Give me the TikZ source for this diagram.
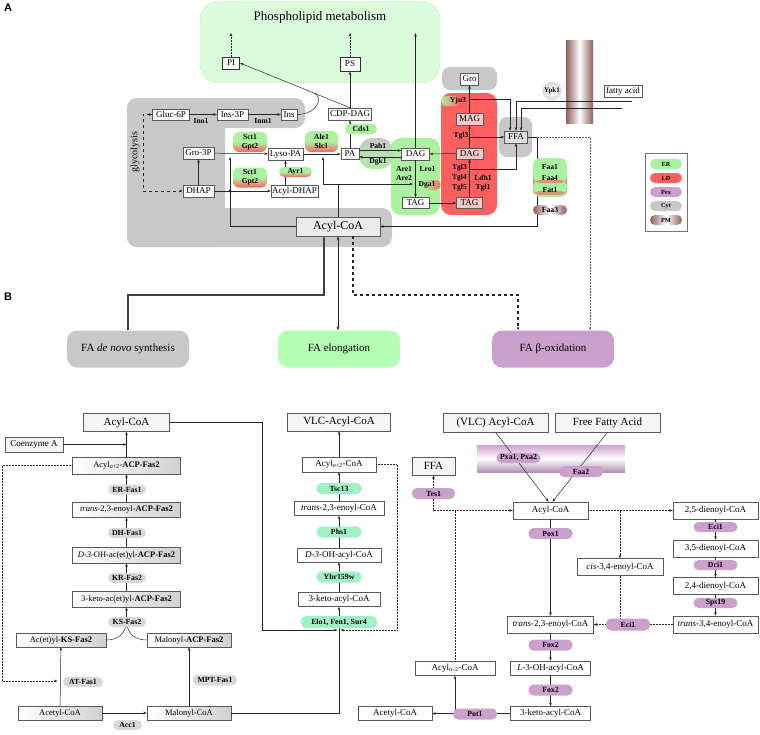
\documentclass[tikz,border=0pt]{standalone}
\usepackage{fontspec}
\setmainfont{Liberation Serif}
\newfontfamily\panelfont{Liberation Sans}
\usetikzlibrary{arrows.meta,calc}
\definecolor{erg}{RGB}{170,242,160}
\definecolor{ldr}{RGB}{255,95,95}
\definecolor{pexp}{RGB}{204,160,204}
\definecolor{cytg}{RGB}{200,200,200}
\definecolor{pmb}{RGB}{140,95,90}
\definecolor{elg}{RGB}{160,240,200}
\definecolor{elbox}{RGB}{180,255,180}
\definecolor{plg}{RGB}{218,252,218}
\definecolor{ldbox}{RGB}{248,200,200}
\definecolor{fabst}{RGB}{215,150,120}
\tikzset{
 bx/.style={draw=black!65, fill=white, line width=0.5pt, inner sep=1pt, font=\fontsize{9}{10}\selectfont},
 hd/.style={bx, font=\fontsize{11}{12}\selectfont},
 acp/.style={bx, left color=white, right color=black!18, font=\fontsize{8.5}{10}\selectfont},
 ldb/.style={bx, fill=ldbox},
 bd/.style={rounded corners=5pt, inner sep=0.5pt, font=\bfseries\fontsize{7.8}{8}\selectfont, minimum height=10},
 gbd/.style={bd, fill=black!15},
 ebd/.style={bd, fill=elg},
 pbd/.style={bd, fill=pexp},
 erld/.style={bd, top color=erg, bottom color=ldr, middle color=erg, align=center, font=\bfseries\fontsize{7.6}{9}\selectfont},
 lb/.style={inner sep=0pt, font=\bfseries\fontsize{7.6}{8}\selectfont},
 lgd/.style={bd, minimum width=32, font=\bfseries\fontsize{6.3}{7}\selectfont},
 arr/.style={-{Stealth[length=3.5pt,width=2.6pt]}, line width=0.5pt, draw=black!85},
 lnk/.style={line width=0.5pt, draw=black!85},
 pnl/.style={font=\panelfont\bfseries\fontsize{11}{12}\selectfont},
 big/.style={rounded corners=10pt, minimum width=122, minimum height=37, font=\fontsize{11}{12}\selectfont},
}
\begin{document}
\begin{tikzpicture}[x=1pt,y=-1pt]
\useasboundingbox (0,0) rectangle (760,734);
\node[pnl] (la) at (8,8) {A};
\node[pnl] (lB) at (8,297) {B};

% ---------- regions panel A
\draw[fill=plg, draw=black!25, densely dotted, rounded corners=18pt] (200,1) rectangle (440,83);
\node[font=\fontsize{13}{14}\selectfont] (plm) at (320,17) {Phospholipid metabolism};
\fill[cytg, rounded corners=10pt] (127,98) rectangle (305,128);
\fill[cytg, rounded corners=10pt] (127,98) rectangle (225,247);
\fill[cytg, rounded corners=10pt] (127,208) rectangle (392,247);
\fill[cytg, rounded corners=8pt] (442,67) rectangle (497,90);
\fill[cytg, rounded corners=8pt] (499,117) rectangle (532,157);
\fill[erg, rounded corners=10pt] (391,138) rectangle (440,215);
\fill[ldr, rounded corners=10pt] (441,93) rectangle (497,215);
\shade[top color=cytg, bottom color=erg, rounded corners=13pt] (359,138) rectangle (393,169);
\shade[left color=pmb, right color=pmb, middle color=white] (566,40) rectangle (593,123);

\coordinate (piup) at (231,33);
\coordinate (psup) at (350,33);
\coordinate (dagup) at (415.5,33);

% ---------- nodes panel A
\node[bx, minimum width=37, minimum height=11] (gluc) at (171,114.5) {Gluc-6P};
\node[bx, minimum width=31, minimum height=11] (ins3p) at (232.5,114.5) {Ins-3P};
\node[bx, minimum width=16, minimum height=11] (ins) at (289,114.5) {Ins};
\node[bx, minimum width=31, minimum height=12] (gro3p) at (198.5,153) {Gro-3P};
\node[bx, minimum width=31, minimum height=12] (dhap) at (198.5,191) {DHAP};
\node[bx, minimum width=35, minimum height=12] (lysopa) at (285.5,154) {Lyso-PA};
\node[bx, minimum width=47, minimum height=12] (acyldhap) at (294.5,191) {Acyl-DHAP};
\node[bx, minimum width=18, minimum height=11] (pa) at (350,154) {PA};
\node[bx, minimum width=43, minimum height=12] (cdpdag) at (350,114) {CDP-DAG};
\node[bx, line width=1pt, draw=black!80, minimum width=17, minimum height=12] (pi) at (231,63) {PI};
\node[bx, line width=1pt, draw=black!80, minimum width=20, minimum height=14] (ps) at (350,64) {PS};
\node[bx, minimum width=28, minimum height=12] (dag) at (415.5,154) {DAG};
\node[bx, minimum width=27, minimum height=11] (tag) at (415.5,203) {TAG};
\node[ldb, minimum width=27, minimum height=12] (mag) at (469.5,119) {MAG};
\node[ldb, minimum width=27, minimum height=11] (dagld) at (469.5,153.5) {DAG};
\node[ldb, minimum width=26, minimum height=11] (tagld) at (469.5,203) {TAG};
\node[bx, minimum width=18, minimum height=12] (gro) at (469.5,79) {Gro};
\node[bx, fill=black!12, minimum width=23, minimum height=12] (ffa) at (516,137) {FFA};
\node[bx, fill=black!8, minimum width=84, minimum height=19, font=\fontsize{12}{13}\selectfont] (acoa) at (338,226.5) {Acyl-CoA};
\node[bx, minimum width=38, minimum height=12] (fa) at (623,91) {fatty acid};
\node[font=\fontsize{10}{11}\selectfont, rotate=90] (glyc) at (135,152) {glycolysis};

% ---------- connectors panel A
\draw[lnk, dashed, {Stealth[length=3.5pt,width=2.6pt]}-{Stealth[length=3.5pt,width=2.6pt]}] (gluc.west) -- (143,114.5) -- (143,191) -- (dhap.west);
\draw[arr] (gluc) -- (ins3p);
\draw[arr] (ins3p) -- (ins);
\draw[arr] (dhap) -- (gro3p);
\draw[arr] (gro3p) -- (lysopa);
\draw[arr] (dhap) -- (acyldhap);
\draw[arr] (acyldhap.north -| lysopa.south) -- (lysopa.south);
\draw[arr] (lysopa) -- (pa);
\draw[arr] (pa) -- (cdpdag);
\draw[arr] (cdpdag) -- (ps);
\draw[arr] (cdpdag.north) -- (pi.east);
\draw[lnk] (ins.east) .. controls (318,114) and (324,97) .. ($(cdpdag.north)!0.33!(pi.east)$);
\draw[arr, densely dotted] (pi) -- (piup);
\draw[arr, densely dotted] (ps) -- (psup);
\draw[arr] (dag) -- (dagup);
\draw[arr] ([yshift=3.5pt]pa.east) -- ([yshift=3.5pt]dag.west);
\draw[arr] ([yshift=-3pt]dag.west) -- ([yshift=-3pt]pa.east);
\draw[arr] (dag) -- (tag);
\draw[arr] (tag) -- (tagld);
\draw[arr] (tagld) -- (dagld);
\draw[arr] (dagld) -- (mag);
\draw[arr] (mag) -- (gro);
\draw[arr] (dagld) -- (dag);
\coordinate (b1) at (469.5,137);
\draw[arr] (b1) -- (ffa);
\coordinate (b2) at (469.5,169);
\draw[arr] (b2) -| (ffa.south);
\coordinate (b3) at (469.5,99);
\draw[arr] (b3) -| ([xshift=-6pt]ffa.north);
\coordinate (pm1) at (632,101);
\draw[arr] (pm1) -| (ffa.north);
\coordinate (pm2) at (622,108);
\draw[arr] (pm2) -| ([xshift=5pt]ffa.north);
\draw[arr] (ffa.east) -- ++(9,0) |- (acoa.east);
\draw[arr] (acoa.west) -| (230,157);
\fill[black!85] (230,191) circle (1.6);
\coordinate (ab) at (338,184);
\draw[lnk] (acoa.north) -- (ab);
\draw[arr] (ab) -| (323,157);
\draw[arr] (ab) -- (413,184);

% ---------- badges / labels panel A
\node[erld, minimum width=34, minimum height=20, rounded corners=6pt] (sg1) at (250,142) {Sct1\\Gpt2};
\node[erld, minimum width=34, minimum height=20, rounded corners=6pt] (sg2) at (250,177.5) {Sct1\\Gpt2};
\node[erld, minimum width=33, minimum height=10] (ayr) at (295.5,172) {Ayr1};
\node[erld, minimum width=33, minimum height=21, rounded corners=6pt] (ale) at (321.5,141.5) {Ale1\\Slc1};
\node[bd, fill=erg, minimum width=32] (cds) at (361,129) {Cds1};
\node[bd, left color=erg, right color=ldr, minimum width=17, rounded corners=5pt] (dgab) at (432,185) {};
\node[bd, left color=erg, right color=ldr, minimum width=20] (yjub) at (451,101) {};
\node[lb] (ino) at (201,121) {Ino1};
\node[lb] (inm) at (263,121) {Inm1};
\node[lb] (pah) at (378,146) {Pah1};
\node[lb] (dgk) at (378,162) {Dgk1};
\node[lb] (are1) at (404,169) {Are1};
\node[lb] (are2) at (404,178) {Are2};
\node[lb] (lro) at (427.5,169) {Lro1};
\node[lb] (dga) at (427,185) {Dga1};
\node[lb] (yju) at (458,101) {Yju3};
\node[lb] (tgl3a) at (461,136) {Tgl3};
\node[lb] (tgl3) at (459.5,168) {Tgl3};
\node[lb] (tgl4) at (459.5,178) {Tgl4};
\node[lb] (tgl5) at (459.5,188) {Tgl5};
\node[lb] (ldh) at (483,178) {Ldh1};
\node[lb] (tgl1) at (483,188) {Tgl1};
\node[circle, inner color=white, outer color=black!15, draw=black!8, minimum size=19, inner sep=0pt, font=\bfseries\fontsize{7}{8}\selectfont] (ypk) at (552,91) {Ypk1};
\node[bd, fill=erg, minimum width=34, minimum height=39, rounded corners=7pt,
  path picture={\fill[fabst] ([yshift=2pt]path picture bounding box.south west) rectangle ([yshift=6pt]path picture bounding box.south east);
  \fill[fabst] ([yshift=14pt]path picture bounding box.south west) rectangle ([yshift=17pt]path picture bounding box.south east);}] (faab) at (550,177.5) {};
\node[lb] (faa1) at (550,167) {Faa1};
\node[lb] (faa4) at (550,178) {Faa4};
\node[lb] (fat1) at (550,190) {Fat1};
\node[bd, left color=pmb, right color=pmb, middle color=white, minimum width=34] (faa3) at (550,210) {Faa3};

% legend
\node[draw=black!55, fill=white, minimum width=42, minimum height=78, inner sep=0pt] (leg) at (666,192) {};
\node[lgd, fill=erg] (lger) at (666,164) {ER};
\node[lgd, fill=ldr] (lgld) at (666,178) {LD};
\node[lgd, fill=pexp] (lgpx) at (666,192) {Pex};
\node[lgd, fill=cytg] (lgcy) at (666,206) {Cyt};
\node[lgd, left color=pmb, right color=pmb, middle color=white] (lgpm) at (666,220) {PM};

% ---------- category boxes
\node[big, fill=cytg] (bdn) at (128,349) {FA \textit{de novo} synthesis};
\node[big, fill=elbox] (bel) at (339,349) {FA elongation};
\node[big, fill=pexp] (bo) at (553,349) {FA β-oxidation};
\coordinate (j1) at (324,295);
\coordinate (j3) at (353,295);
\coordinate (j4) at (518,295);
\draw[arr, line width=1.6pt, draw=black!75] (bdn.north) |- (j1) -- (acoa.south -| j1);
\draw[lnk, line width=0.9pt, {Stealth[length=4pt,width=3pt]}-{Stealth[length=4pt,width=3pt]}] (acoa.south) -- (acoa.south |- bel.north);
\draw[arr, line width=1.3pt, dashed] (acoa.south -| j3) -- (j3) -- (j4) -- (bo.north -| j4);
\draw[arr, densely dotted, draw=black!60] (ffa.east) ++(9,0) -| ([xshift=37pt]bo.north);

% ---------- de novo column
\node[hd, fill=black!4, minimum width=86, minimum height=18] (dacoa) at (126.5,422.5) {Acyl-CoA};
\node[bx, fill=black!4, minimum width=58, minimum height=15] (coa) at (34,444.5) {Coenzyme A};
\node[acp, minimum width=108, minimum height=17] (acyln2) at (126.5,465.5) {Acyl\textsubscript{\textit{n}+2}-\textbf{ACP-Fas2}};
\node[acp, minimum width=108, minimum height=15] (trans) at (126.5,509.5) {\textit{trans}-2,3-enoyl-\textbf{ACP-Fas2}};
\node[acp, minimum width=108, minimum height=16] (d3oh) at (126.5,555) {\textit{D-3}-OH-ac(et)yl-\textbf{ACP-Fas2}};
\node[acp, minimum width=108, minimum height=16] (keto) at (126.5,599) {3-keto-ac(et)yl-\textbf{ACP-Fas2}};
\node[acp, minimum width=90, minimum height=14] (acks) at (61,640) {Ac(et)yl-\textbf{KS-Fas2}};
\node[acp, minimum width=84, minimum height=14] (malacp) at (189,640) {Malonyl-\textbf{ACP-Fas2}};
\node[acp, minimum width=84, minimum height=14] (acetyl) at (60,713) {Acetyl-CoA};
\node[acp, minimum width=84, minimum height=14] (malcoa) at (189,713) {Malonyl-CoA};
\coordinate (ksj) at (126.5,621);
\draw[arr] (acetyl) -- (malcoa);
\draw[arr] (acetyl) -- (acks);
\draw[arr] (malcoa) -- (malacp);
\draw[lnk] (acks.east) .. controls (119,640) and (126,633) .. (ksj);
\draw[lnk] (malacp.west) .. controls (134,640) and (127,633) .. (ksj);
\draw[arr] (ksj) -- (keto);
\draw[arr] (keto) -- (d3oh);
\draw[arr] (d3oh) -- (trans);
\draw[arr] (trans) -- (acyln2);
\draw[arr] (acyln2) -- (dacoa);
\draw[arr] (coa.east) -- (coa.east -| dacoa.south);
\draw[arr, densely dotted] (acyln2.west) -| (2,681) -- (57.5,681);
\node[gbd, minimum width=38] (erf) at (127,489.5) {ER-Fas1};
\node[gbd, minimum width=38] (dhf) at (127,533) {DH-Fas1};
\node[gbd, minimum width=38] (krf) at (127,578) {KR-Fas2};
\node[gbd, minimum width=38] (ksf) at (127,622) {KS-Fas2};
\node[gbd, minimum width=40] (atf) at (83,682) {AT-Fas1};
\node[gbd, minimum width=44, minimum height=11] (mptf) at (215,680) {MPT-Fas1};
\node[gbd, minimum width=29] (acc) at (127.5,725) {Acc1};

% ---------- elongation column
\node[hd, fill=black!4, minimum width=103, minimum height=18] (vlc) at (339,422) {VLC-Acyl-CoA};
\node[bx, minimum width=74, minimum height=15] (eacyl) at (339,464.5) {Acyl\textsubscript{\textit{n}+2}-CoA};
\node[bx, minimum width=90, minimum height=14] (etrans) at (339,508.5) {\textit{trans}-2,3-enoyl-CoA};
\node[bx, minimum width=84, minimum height=14] (ed3oh) at (339,555) {\textit{D-3}-OH-acyl-CoA};
\node[bx, minimum width=82, minimum height=14] (eketo) at (339,599.5) {3-keto-acyl-CoA};
\coordinate (elj) at (339,630);
\draw[arr] (eacyl) -- (vlc);
\draw[arr] (etrans) -- (eacyl);
\draw[arr] (ed3oh) -- (etrans);
\draw[arr] (eketo) -- (ed3oh);
\draw[arr] (elj) -- (eketo);
\draw[arr] (dacoa.east) -| (262,630) -- ([xshift=-1.5pt]elj);
\draw[lnk] (malcoa.east) -| (elj);
\draw[arr, densely dotted] (eacyl.east) -| (397,630) -- ([xshift=1.5pt]elj);
\node[ebd, minimum width=45, minimum height=11] (tsc) at (339,488.5) {Tsc13};
\node[ebd, minimum width=45, minimum height=11] (phs) at (339,532) {Phs1};
\node[ebd, minimum width=45, minimum height=11] (ybr) at (339,577) {Ybr159w};
\node[ebd, minimum width=76, minimum height=12] (elo) at (339,622) {Elo1, Fen1, Sur4};

% ---------- beta-oxidation
\node[hd, fill=black!4, minimum width=105, minimum height=19] (vlcacoa) at (495.5,422.5) {(VLC) Acyl-CoA};
\node[hd, fill=black!4, minimum width=105, minimum height=19] (ffacid) at (607.5,422.5) {Free Fatty Acid};
\shade[top color=pexp, bottom color=pexp!90!black, middle color=white] (477,445) rectangle (625,472);
\node[bx, minimum width=75, minimum height=17] (bacoa) at (550.5,510.5) {Acyl-CoA};
\node[hd, fill=black!4, minimum width=43, minimum height=18] (bffa) at (433.5,466) {FFA};
\node[bx, minimum width=86, minimum height=17] (btrans) at (550.5,624.5) {\textit{trans}-2,3-enoyl-CoA};
\node[bx, minimum width=80, minimum height=14] (bl3oh) at (550.5,668) {\textit{L}-3-OH-acyl-CoA};
\node[bx, minimum width=80, minimum height=14] (bketo) at (550.5,713.5) {3-keto-acyl-CoA};
\node[bx, minimum width=74, minimum height=14] (bacetyl) at (395,713.5) {Acetyl-CoA};
\node[bx, minimum width=80, minimum height=14] (acylm2) at (455,668.5) {Acyl\textsubscript{\textit{n}--2}-CoA};
\node[bx, minimum width=85, minimum height=17] (d25) at (715.5,510.5) {2,5-dienoyl-CoA};
\node[bx, minimum width=85, minimum height=17] (d35) at (715.5,548.5) {3,5-dienoyl-CoA};
\node[bx, minimum width=85, minimum height=17] (d24) at (715.5,586) {2,4-dienoyl-CoA};
\node[bx, minimum width=85, minimum height=17] (t34) at (715.5,624.5) {\textit{trans}-3,4-enoyl-CoA};
\node[bx, minimum width=86, minimum height=17] (cis34) at (620,567) {\textit{cis}-3,4-enoyl-CoA};

\draw[arr] (vlcacoa.south) -- ([xshift=-2pt]bacoa.north);
\draw[arr] (ffacid.south) -- ([xshift=2pt]bacoa.north);
\draw[arr] (bacoa) -- (btrans);
\draw[arr] (btrans) -- (bl3oh);
\draw[arr] (bl3oh) -- (bketo);
\draw[arr] (bketo) -- (bacetyl);
\draw[arr] (bketo.west -| acylm2) -- (acylm2.south);
\coordinate (tj) at (455,510.5);
\draw[lnk, densely dotted] (acylm2.north) -- (tj);
\draw[arr, densely dotted] (tj) -- (bacoa.west);
\draw[arr, densely dotted] (tj) -| (bffa.south);
\coordinate (rj) at (620,510.5);
\draw[arr, densely dotted] (bacoa.east) -- (d25.west);
\draw[arr, densely dotted] (rj) -- (cis34.north);
\draw[arr] (d25) -- (d35);
\draw[arr] (d35) -- (d24);
\draw[arr] (d24) -- (t34);
\draw[arr, densely dotted] (t34.west) -- (btrans.east);
\draw[lnk, densely dotted] (cis34.south) -- (cis34.south |- t34.west);

\node[pbd, minimum width=44] (pxa) at (518.5,458) {Pxa1, Pxa2};
\node[pbd, minimum width=44, minimum height=11] (faa2) at (581,471.5) {Faa2};
\node[pbd, minimum width=43, minimum height=11] (tes) at (433.5,493.5) {Tes1};
\node[pbd, minimum width=44, minimum height=11] (pox) at (550.5,533.5) {Pox1};
\node[pbd, minimum width=44, minimum height=11] (fox2a) at (550.5,645) {Fox2};
\node[pbd, minimum width=44, minimum height=11] (fox2b) at (550.5,690) {Fox2};
\node[pbd, minimum width=44, minimum height=11] (pot) at (475,714) {Pot1};
\node[pbd, minimum width=44] (eci1a) at (715.5,527) {Eci1};
\node[pbd, minimum width=44] (dci) at (715.5,565) {Dci1};
\node[pbd, minimum width=44] (sps) at (715.5,603) {Sps19};
\node[pbd, minimum width=44, minimum height=12] (eci1b) at (628,624.5) {Eci1};
\end{tikzpicture}
\end{document}
